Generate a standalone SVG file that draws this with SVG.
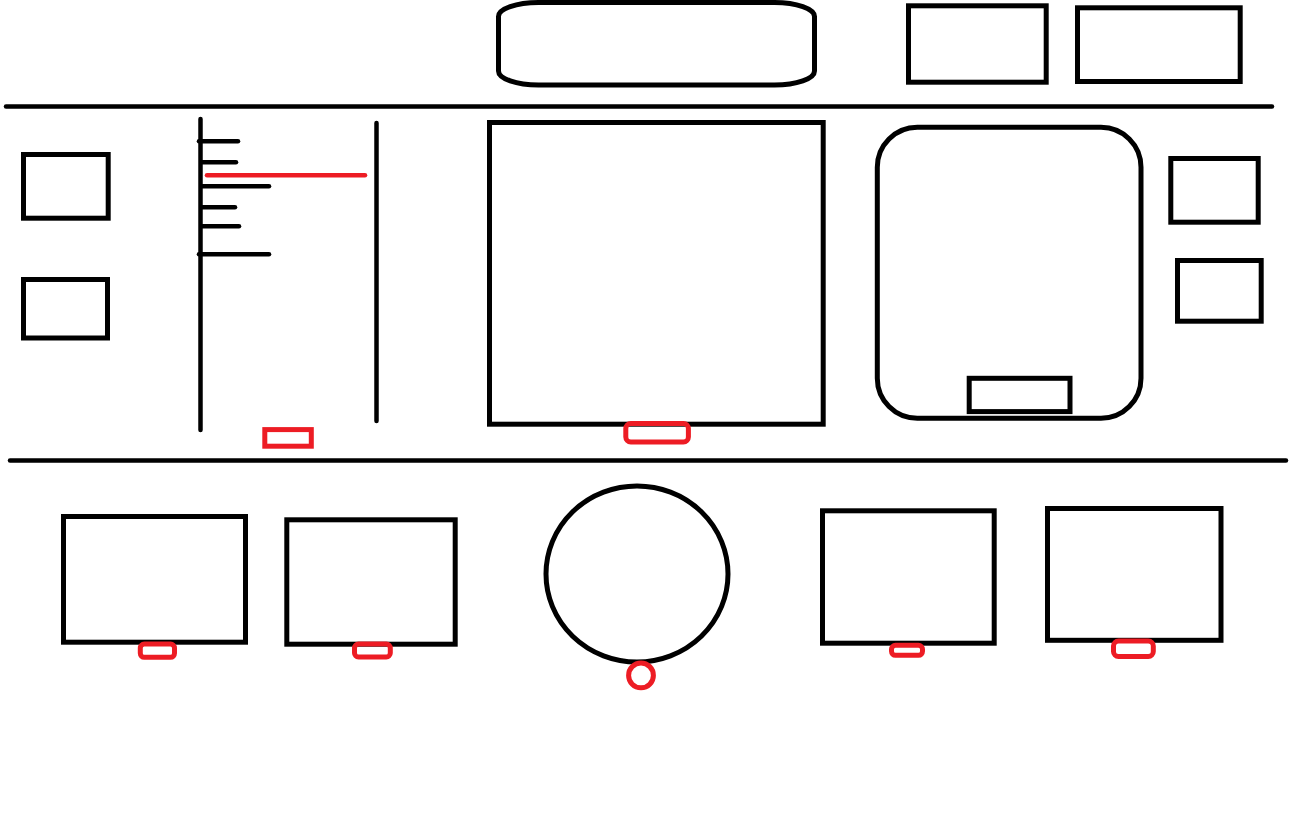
<svg xmlns="http://www.w3.org/2000/svg" width="1301" height="830" viewBox="0 0 1301 830">
<style>
.k{fill:none;stroke:#000;stroke-width:5}
.l{fill:none;stroke:#000;stroke-width:4.5;stroke-linecap:round}
.r{fill:none;stroke:#ED1C24;stroke-width:5}
.rl{fill:none;stroke:#ED1C24;stroke-width:4.5;stroke-linecap:round}
</style>
<rect width="1301" height="830" fill="#fff"/>
<g id="dividers">
<line class="l" x1="6" y1="106.5" x2="1272" y2="106.5"/>
<line class="l" x1="10" y1="460.5" x2="1286" y2="460.5"/>
</g>
<g id="top-stage"><rect class="k" x="498.5" y="2.5" width="316" height="82.5" rx="40" ry="14"/></g>
<g id="top-box-1"><rect class="k" x="908.5" y="5.8" width="137.7" height="76.4"/></g>
<g id="top-box-2"><rect class="k" x="1077.5" y="7.8" width="162.7" height="73.7"/></g>
<g id="left-box-1"><rect class="k" x="23.5" y="154.5" width="84.7" height="63.7"/></g>
<g id="left-box-2"><rect class="k" x="23.5" y="279.5" width="84" height="58.5"/></g>
<g id="rack">
<line class="l" x1="200.5" y1="119" x2="200.5" y2="430"/>
<line class="l" x1="376.5" y1="123" x2="376.5" y2="421"/>
<line class="l" x1="199" y1="141.3" x2="238" y2="141.3"/>
<line class="l" x1="202" y1="162.3" x2="236" y2="162.3"/>
<line class="l" x1="202" y1="186.3" x2="269" y2="186.3"/>
<line class="l" x1="202" y1="207.3" x2="235" y2="207.3"/>
<line class="l" x1="202" y1="226.3" x2="239" y2="226.3"/>
<line class="l" x1="199" y1="254.3" x2="269" y2="254.3"/>
<line class="rl" x1="207" y1="175.3" x2="365" y2="175.3"/>
<rect class="r" x="264.8" y="429.6" width="46.5" height="16.6"/>
</g>
<g id="center-box">
<rect class="k" x="489.5" y="122.5" width="333.7" height="301.7"/>
<rect class="r" x="625.8" y="423.5" width="62.6" height="18.5" rx="5"/>
</g>
<g id="rounded-box">
<rect class="k" x="877.3" y="127.3" width="263.7" height="291" rx="40"/>
<rect class="k" x="969.2" y="378.3" width="100.8" height="33.3"/>
</g>
<g id="right-box-1"><rect class="k" x="1170.8" y="158.5" width="87.4" height="63.7"/></g>
<g id="right-box-2"><rect class="k" x="1177.5" y="260.5" width="83.7" height="60.7"/></g>
<g id="bottom-box-1">
<rect class="k" x="63.5" y="516.5" width="182" height="125.7"/>
<rect class="r" x="140.3" y="644" width="34.2" height="13.3" rx="4"/>
</g>
<g id="bottom-box-2">
<rect class="k" x="286.8" y="519.8" width="168.4" height="124.4"/>
<rect class="r" x="354.5" y="644" width="35.8" height="13" rx="4"/>
</g>
<g id="round-table">
<ellipse class="k" cx="637" cy="574" rx="91" ry="88"/>
<circle class="r" cx="641" cy="675.4" r="12.4"/>
</g>
<g id="bottom-box-3">
<rect class="k" x="822.5" y="510.8" width="171.7" height="132.4"/>
<rect class="r" x="891.5" y="645.3" width="31" height="10" rx="4"/>
</g>
<g id="bottom-box-4">
<rect class="k" x="1047.5" y="508.5" width="173.5" height="131.8"/>
<rect class="r" x="1113.5" y="641" width="39.8" height="15.5" rx="5"/>
</g>
</svg>
